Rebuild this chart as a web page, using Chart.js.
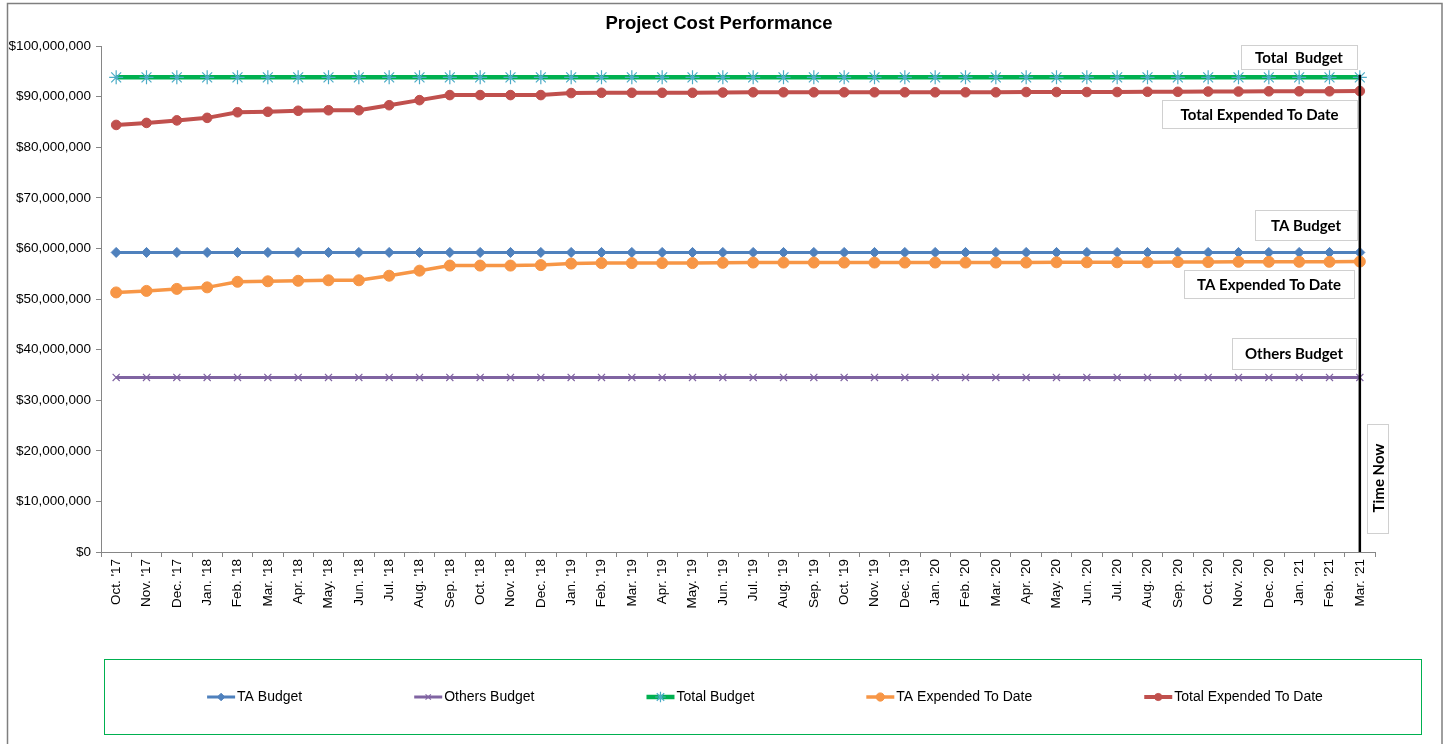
<!DOCTYPE html>
<html>
<head>
<meta charset="utf-8">
<script src="https://cdn.jsdelivr.net/npm/chart.js"></script>
<style>
    html, body { margin: 0; padding: 0; background: #fff; }
    #wrap { position: relative; width: 1446px; height: 744px; overflow: hidden; }
</style>
</head>
<body>
<div id="wrap"><canvas id="costChart" width="1446" height="744"></canvas></div>

<script>
    // Month labels (Oct '17 .. Mar '21)
    const months = [
        "Oct. '17", "Nov. '17", "Dec. '17", "Jan. '18", "Feb. '18", "Mar. '18", "Apr. '18", "May. '18", "Jun. '18",
        "Jul. '18", "Aug. '18", "Sep. '18", "Oct. '18", "Nov. '18", "Dec. '18", "Jan. '19", "Feb. '19", "Mar. '19",
        "Apr. '19", "May. '19", "Jun. '19", "Jul. '19", "Aug. '19", "Sep. '19", "Oct. '19", "Nov. '19", "Dec. '19",
        "Jan. '20", "Feb. '20", "Mar. '20", "Apr. '20", "May. '20", "Jun. '20", "Jul. '20", "Aug. '20", "Sep. '20",
        "Oct. '20", "Nov. '20", "Dec. '20", "Jan. '21", "Feb. '21", "Mar. '21"
    ];

    // values in $ millions
    const taBudget = [
        59.2, 59.2, 59.2, 59.2, 59.2, 59.2, 59.2, 59.2, 59.2, 59.2, 59.2, 59.2, 59.2, 59.2,
        59.2, 59.2, 59.2, 59.2, 59.2, 59.2, 59.2, 59.2, 59.2, 59.2, 59.2, 59.2, 59.2, 59.2,
        59.2, 59.2, 59.2, 59.2, 59.2, 59.2, 59.2, 59.2, 59.2, 59.2, 59.2, 59.2, 59.2, 59.2
    ];
    const othersBudget = [
        34.5, 34.5, 34.5, 34.5, 34.5, 34.5, 34.5, 34.5, 34.5, 34.5, 34.5, 34.5, 34.5, 34.5,
        34.5, 34.5, 34.5, 34.5, 34.5, 34.5, 34.5, 34.5, 34.5, 34.5, 34.5, 34.5, 34.5, 34.5,
        34.5, 34.5, 34.5, 34.5, 34.5, 34.5, 34.5, 34.5, 34.5, 34.5, 34.5, 34.5, 34.5, 34.5
    ];
    const totalBudget = [
        93.8, 93.8, 93.8, 93.8, 93.8, 93.8, 93.8, 93.8, 93.8, 93.8, 93.8, 93.8, 93.8, 93.8,
        93.8, 93.8, 93.8, 93.8, 93.8, 93.8, 93.8, 93.8, 93.8, 93.8, 93.8, 93.8, 93.8, 93.8,
        93.8, 93.8, 93.8, 93.8, 93.8, 93.8, 93.8, 93.8, 93.8, 93.8, 93.8, 93.8, 93.8, 93.8
    ];
    const taExpended = [
        51.3, 51.6, 52.0, 52.3, 53.4, 53.5, 53.6, 53.7, 53.7, 54.6, 55.6, 56.6, 56.6, 56.6,
        56.7, 57.0, 57.1, 57.1, 57.1, 57.1, 57.15, 57.2, 57.2, 57.2, 57.2, 57.2, 57.2, 57.2,
        57.2, 57.2, 57.2, 57.25, 57.25, 57.25, 57.25, 57.3, 57.3, 57.35, 57.35, 57.35, 57.35, 57.4
    ];
    const totalExpended = [
        84.4, 84.8, 85.3, 85.8, 86.9, 87.0, 87.2, 87.3, 87.3, 88.3, 89.3, 90.3, 90.3, 90.3,
        90.3, 90.7, 90.75, 90.75, 90.75, 90.75, 90.8, 90.85, 90.85, 90.85, 90.85, 90.85, 90.85, 90.85,
        90.85, 90.85, 90.9, 90.9, 90.9, 90.9, 90.95, 90.95, 91.0, 91.0, 91.05, 91.05, 91.05, 91.1
    ];

    // Text boxes on the right-hand side
    const callouts = [
        { text: "Total  Budget", x: 1241, y: 45, w: 116, h: 24 },
        { text: "Total Expended To Date", x: 1162, y: 100, w: 195, h: 28 },
        { text: "TA Budget", x: 1255, y: 210, w: 102, h: 30 },
        { text: "TA Expended To Date", x: 1184, y: 270, w: 170, h: 28 },
        { text: "Others Budget", x: 1232, y: 338, w: 124, h: 31 }
    ];

    const labelFont = '"Liberation Sans", Arial, sans-serif';
    const calloutFont = 'bold 15px Lato, "Open Sans", sans-serif';

    // frame, title, callouts, time-now line and the legend box
    const decorPlugin = {
        id: 'decor',
        beforeDraw(chart) {
            const ctx = chart.ctx;
            ctx.save();
            ctx.fillStyle = '#fff';
            ctx.fillRect(0, 0, chart.width, chart.height);
            ctx.strokeStyle = '#7f7f7f';
            ctx.lineWidth = 1.5;
            ctx.strokeRect(7.5, 3.5, 1434.5, 800);

            ctx.fillStyle = '#000';
            ctx.font = 'bold 18.5px ' + labelFont;
            ctx.textAlign = 'center';
            ctx.textBaseline = 'middle';
            ctx.fillText('Project Cost Performance', 719, 24);
            ctx.restore();
        },
        afterDatasetsDraw(chart) {
            const ctx = chart.ctx;
            const xs = chart.scales.x, ys = chart.scales.y;
            ctx.save();

            // time now line at the last month
            const xNow = xs.getPixelForValue(months.length - 1);
            ctx.strokeStyle = '#000';
            ctx.lineWidth = 2.5;
            ctx.beginPath();
            ctx.moveTo(xNow, ys.getPixelForValue(94.3));
            ctx.lineTo(xNow, ys.getPixelForValue(0));
            ctx.stroke();

            ctx.font = calloutFont;
            ctx.textAlign = 'center';
            ctx.textBaseline = 'middle';
            callouts.forEach(c => {
                ctx.fillStyle = '#fff';
                ctx.fillRect(c.x, c.y, c.w, c.h);
                ctx.strokeStyle = '#d0d0d0';
                ctx.lineWidth = 1;
                ctx.strokeRect(c.x + 0.5, c.y + 0.5, c.w, c.h);
                ctx.fillStyle = '#000';
                ctx.fillText(c.text, c.x + c.w / 2, c.y + c.h / 2 + 1);
            });

            // Time Now box (vertical text)
            ctx.fillStyle = '#fff';
            ctx.fillRect(1367, 424, 21, 109);
            ctx.strokeStyle = '#d0d0d0';
            ctx.strokeRect(1367.5, 424.5, 21, 109);
            ctx.translate(1378, 478);
            ctx.rotate(-Math.PI / 2);
            ctx.fillStyle = '#000';
            ctx.fillText('Time Now', 0, 1);
            ctx.restore();
        },
        afterDraw(chart) {
            const ctx = chart.ctx;
            ctx.save();
            ctx.strokeStyle = '#00B050';
            ctx.lineWidth = 1;
            ctx.strokeRect(104.5, 659.5, 1317, 75);

            ctx.font = '14px ' + labelFont;
            ctx.textBaseline = 'middle';
            ctx.textAlign = 'left';
            const sets = chart.data.datasets;
            const lineW = 28, gap = 112, txtGap = 2;
            const widths = sets.map(d => lineW + txtGap + ctx.measureText(d.label).width);
            const total = widths.reduce((a, b) => a + b, 0) + gap * (sets.length - 1);
            let x = 765 - total / 2;
            const y = 697;
            sets.forEach((d, i) => {
                ctx.strokeStyle = d.borderColor;
                ctx.lineWidth = d.borderWidth;
                ctx.beginPath();
                ctx.moveTo(x, y);
                ctx.lineTo(x + lineW, y);
                ctx.stroke();

                ctx.fillStyle = d.pointBackgroundColor;
                ctx.strokeStyle = d.pointBorderColor;
                ctx.lineWidth = d.pointBorderWidth;
                Chart.helpers.drawPoint(ctx, {
                    pointStyle: d.pointStyle,
                    radius: d.pointRadius * 0.75,
                    rotation: 0,
                    borderWidth: d.pointBorderWidth
                }, x + lineW / 2, y);

                ctx.fillStyle = '#000';
                ctx.fillText(d.label, x + lineW + txtGap, y);
                x += widths[i] + gap;
            });
            ctx.restore();
        }
    };

    function series(label, data, color, width, style, radius, markerColor, markerBorder, order) {
        return {
            label: label,
            data: data,
            borderColor: color,
            backgroundColor: color,
            borderWidth: width,
            pointStyle: style,
            pointRadius: radius,
            pointHoverRadius: radius,
            pointBackgroundColor: markerColor,
            pointBorderColor: markerColor,
            pointBorderWidth: markerBorder,
            tension: 0,
            order: order
        };
    }

    const chart = new Chart(document.getElementById('costChart'), {
        type: 'line',
        data: {
            labels: months,
            datasets: [
                series('TA Budget', taBudget, '#4F81BD', 3, 'rectRot', 5, '#4F81BD', 1, 5),
                series('Others Budget', othersBudget, '#8064A2', 3, 'crossRot', 5, '#8064A2', 1.2, 4),
                series('Total Budget', totalBudget, '#00B050', 4.5, 'star', 7, '#4BACC6', 1.2, 3),
                series('TA Expended To Date', taExpended, '#F79646', 3.5, 'circle', 5.5, '#F79646', 1, 2),
                series('Total Expended To Date', totalExpended, '#C0504D', 4, 'circle', 4.8, '#C0504D', 1, 1)
            ]
        },
        options: {
            responsive: false,
            animation: false,
            layout: { padding: { left: 0, right: 71, top: 46, bottom: 122 } },
            plugins: {
                legend: { display: false },
                title: { display: false },
                tooltip: { enabled: false }
            },
            scales: {
                x: {
                    offset: true,
                    grid: { offset: true, drawOnChartArea: false, tickLength: 5, color: '#868686' },
                    border: { color: '#868686', width: 1 },
                    ticks: {
                        autoSkip: false,
                        minRotation: 90,
                        maxRotation: 90,
                        padding: 2,
                        color: '#000',
                        font: { family: labelFont, size: 13.5 }
                    },
                    afterFit(scale) { scale.height = 70; }
                },
                y: {
                    min: 0,
                    max: 100,
                    grid: { drawOnChartArea: false, tickLength: 5, color: '#868686' },
                    border: { color: '#868686', width: 1 },
                    ticks: {
                        stepSize: 10,
                        padding: 5,
                        color: '#000',
                        font: { family: labelFont, size: 13.5 },
                        callback: v => '$' + (v * 1000000).toLocaleString('en-US')
                    },
                    afterFit(scale) { scale.width = 101; }
                }
            }
        },
        plugins: [decorPlugin]
    });
</script>
</body>
</html>
